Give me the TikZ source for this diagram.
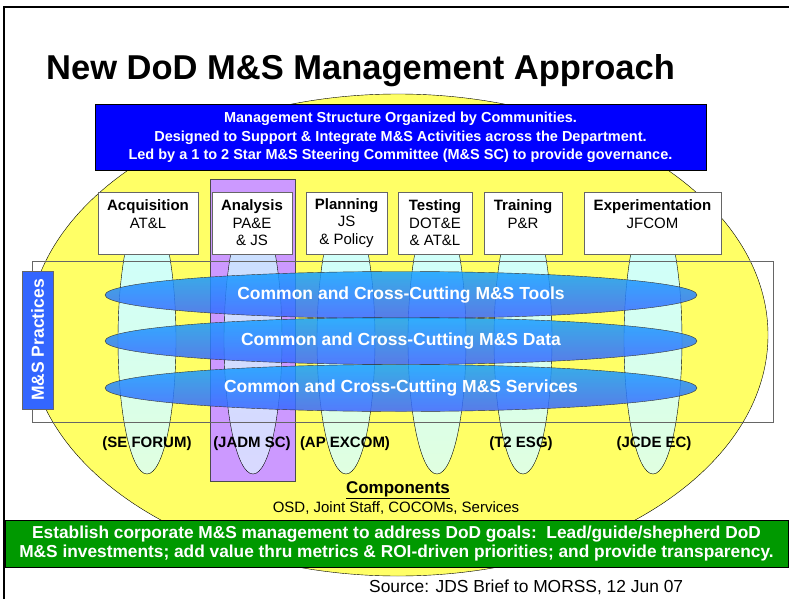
\documentclass[tikz,border=0pt]{standalone}
\usepackage{fontspec}
\setmainfont{Liberation Sans}
\usetikzlibrary{shapes.geometric}

\definecolor{slideyellow}{RGB}{255,255,102}
\definecolor{analysispurple}{RGB}{204,153,255}
\definecolor{lenstop}{RGB}{204,255,255}
\definecolor{lensbottom}{RGB}{224,255,224}
\definecolor{bandtop}{RGB}{20,160,255}
\definecolor{bandbottom}{RGB}{60,100,255}
\definecolor{practiceblue}{RGB}{51,102,255}
\definecolor{goalgreen}{RGB}{0,153,0}

\begin{document}
\begin{tikzpicture}[x=1pt,y=-1pt,
    community/.style={draw=black!60,fill=white,minimum width=#1,minimum height=62pt,
      inner sep=0pt,align=center,font=\fontsize{15}{17.5}\selectfont},
    band/.style={ellipse,draw=black!80,top color=bandtop,bottom color=bandbottom,
      fill opacity=0.85,text opacity=1,minimum width=592pt,minimum height=47pt,
      inner sep=0pt,text=white,font=\bfseries\fontsize{17.5}{20}\selectfont},
    forum/.style={anchor=base,font=\bfseries\fontsize{15}{18}\selectfont},
    lens/.style={draw=black,top color=lenstop,bottom color=lensbottom}]
    \useasboundingbox (0,0) rectangle (789,599);
    % slide frame
    \draw[line width=1.5pt] (4,599) -- (4,7) -- (789,7);
    % the department
    \draw[fill=slideyellow] (398,335) ellipse [x radius=370pt, y radius=241pt];
    \draw[draw=black!70,fill=analysispurple] (210,179) rectangle (295,481);
    % communities
    \foreach \cx in {147,346,437,523,653} {
      \draw[lens] (\cx,340) ellipse [x radius=29pt, y radius=134pt];
    }
    \draw[draw=black,top color=lenstop!80!blue!60!white,bottom color=blue!15!white]
      (253,340) ellipse [x radius=29pt, y radius=134pt];
    \node[community=100pt] (acq) at (148,223) {\textbf{Acquisition}\\AT\&L\\~};
    \node[community=80pt] (ana) at (252,223) {\textbf{Analysis}\\PA\&E\\\& JS};
    \node[community=81pt] (plan) at (346.5,223) {\textbf{Planning}\\JS\\\& Policy};
    \node[community=74pt] (test) at (435,223) {\textbf{Testing}\\DOT\&E\\\& AT\&L};
    \node[community=78pt] (train) at (523,223) {\textbf{Training}\\P\&R\\~};
    \node[community=137pt] (exper) at (652.5,223) {\textbf{Experimentation}\\JFCOM\\~};
    % practices
    \draw[black!60] (32,261) rectangle (773,422);
    \node[band] (tools) at (401,295) {Common and Cross-Cutting M\&S Tools};
    \node[band] (data) at (401,341) {Common and Cross-Cutting M\&S Data};
    \node[band] (services) at (401,388) {Common and Cross-Cutting M\&S Services};
    \node[draw=black!60,fill=practiceblue,rotate=90,minimum width=138pt,minimum height=31pt,
      inner sep=0pt,text=white,font=\bfseries\fontsize{17.5}{20}\selectfont]
      (practices) at (37.5,340) {M\&S Practices};
    \foreach \cx/\forumname in {147/SE FORUM,252/JADM SC,345/AP EXCOM,521/T2 ESG,654/JCDE EC} {
      \node[forum] (forum-\cx) at (\cx,447) {(\forumname)};
    }
    \node[anchor=base,font=\bfseries\fontsize{17}{20}\selectfont] (components) at (398,493)
      {\underline{Components}};
    \node[anchor=base,font=\fontsize{15}{18}\selectfont] (members) at (396,512)
      {OSD, Joint Staff, COCOMs, Services};
    % goals and governance
    \node[draw=black,fill=goalgreen,minimum width=783pt,minimum height=47pt,inner sep=0pt,
      align=center,text=white,font=\bfseries\fontsize{17.3}{18.5}\selectfont] (goals) at (396.5,543.5)
      {Establish corporate M\&S management to address DoD goals:\ \ Lead/guide/shepherd DoD\\
       M\&S investments; add value thru metrics \& ROI-driven priorities; and provide transparency.};
    \node[draw=black,line width=1pt,fill=blue,minimum width=611pt,minimum height=65pt,inner sep=0pt,
      align=center,text=white,font=\bfseries\fontsize{14.5}{18.5}\selectfont] (mission) at (400.5,137.5)
      {Management Structure Organized by Communities.\\
       Designed to Support \& Integrate M\&S Activities across the Department.\\
       Led by a 1 to 2 Star M\&S Steering Committee (M\&S SC) to provide governance.};
    \node[anchor=base west,inner sep=0pt,font=\bfseries\fontsize{34.5}{40}\selectfont] (title) at (46,80)
      {New DoD M\&S Management Approach};
    \node[anchor=base west,inner sep=0pt,font=\fontsize{17.4}{20}\selectfont] (source) at (369,592)
      {Source: JDS Brief to MORSS, 12 Jun 07};
\end{tikzpicture}
\end{document}
